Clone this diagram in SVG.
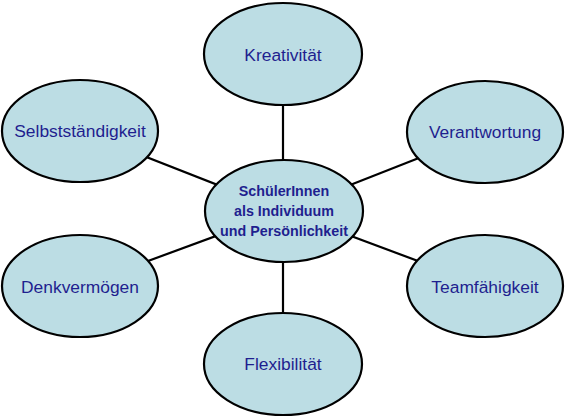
<svg xmlns="http://www.w3.org/2000/svg" width="566" height="418" viewBox="0 0 566 418">
<style>
.n{fill:#bcdde4;stroke:#000;stroke-width:2.2}
.c{stroke:#000;stroke-width:2.2;fill:none}
.t{font-family:"Liberation Sans",Arial,sans-serif;font-size:17.4px;fill:#1f1f8f;text-anchor:middle}
.b{font-family:"Liberation Sans",Arial,sans-serif;font-size:14.3px;font-weight:bold;fill:#1f1f8f;text-anchor:middle}
</style>
<rect width="566" height="418" fill="#fff"/>
<g id="connectors">
<line class="c" x1="283" y1="106" x2="283" y2="161"/>
<line class="c" x1="283" y1="261" x2="283" y2="313"/>
<line class="c" x1="80" y1="131" x2="284" y2="211"/>
<line class="c" x1="485" y1="132" x2="284" y2="211"/>
<line class="c" x1="485" y1="286" x2="284" y2="211"/>
<line class="c" x1="80" y1="286" x2="284" y2="211"/>
</g>
<g id="center">
<ellipse class="n" cx="284" cy="211" rx="79" ry="51"/>
<text class="b" x="284" y="196">SchülerInnen</text>
<text class="b" x="284" y="216">als Individuum</text>
<text class="b" x="284" y="236">und Persönlichkeit</text>
</g>
<g id="kreativitaet">
<ellipse class="n" cx="283" cy="54" rx="79" ry="51"/>
<text class="t" x="283" y="61">Kreativität</text>
</g>
<g id="verantwortung">
<ellipse class="n" cx="485" cy="132" rx="78" ry="51"/>
<text class="t" x="485" y="138">Verantwortung</text>
</g>
<g id="teamfaehigkeit">
<ellipse class="n" cx="485" cy="286" rx="78" ry="51"/>
<text class="t" x="485" y="293">Teamfähigkeit</text>
</g>
<g id="flexibilitaet">
<ellipse class="n" cx="283" cy="364" rx="79" ry="51"/>
<text class="t" x="283" y="370">Flexibilität</text>
</g>
<g id="denkvermoegen">
<ellipse class="n" cx="80" cy="286" rx="78" ry="51"/>
<text class="t" x="80" y="293">Denkvermögen</text>
</g>
<g id="selbststaendigkeit">
<ellipse class="n" cx="80" cy="131" rx="78" ry="51"/>
<text class="t" x="80" y="137">Selbstständigkeit</text>
</g>
</svg>
